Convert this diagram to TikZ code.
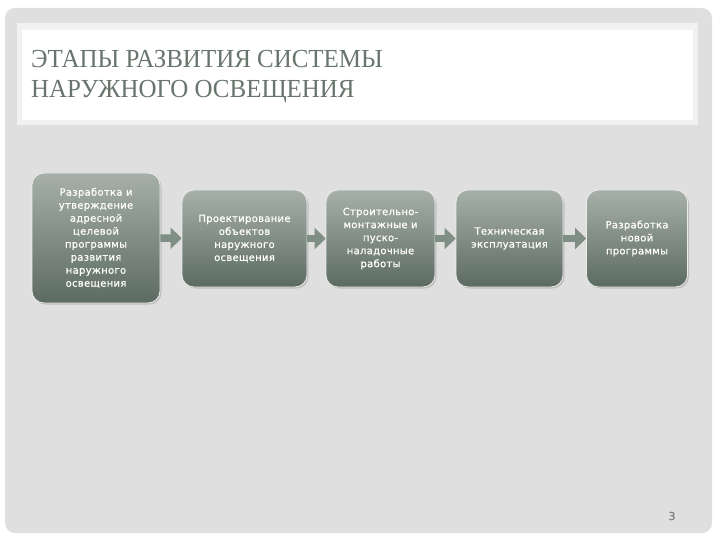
\documentclass[tikz,border=0pt]{standalone}
\usepackage{fontspec}
\setmainfont{Liberation Serif}
\newfontfamily\titlefont[FakeStretch=0.96]{Liberation Serif}
\newfontfamily\boxfont[LetterSpace=3,FakeBold=0.6]{DejaVu Sans}
\usetikzlibrary{arrows.meta,shadows}

\definecolor{slidegray}{RGB}{223,223,223}
\definecolor{bandgray}{RGB}{241,241,241}
\definecolor{titlegreen}{RGB}{104,117,108}
\definecolor{boxtop}{RGB}{166,176,168}
\definecolor{boxbottom}{RGB}{92,107,98}
\definecolor{arrowgreen}{RGB}{128,143,134}

\tikzset{
  stagebox/.style={rounded corners=12pt, draw=white!85!gray, line width=0.8pt,
    top color=boxtop, bottom color=boxbottom, text=white,
    font=\boxfont\fontsize{10}{13}\selectfont, align=center, inner sep=2pt,
    drop shadow={shadow xshift=1.5pt, shadow yshift=-1.5pt, opacity=0.35}},
  flow/.style={arrowgreen, line width=7.5pt, -{Triangle[width=21pt,length=11pt]}}
}

\begin{document}
\begin{tikzpicture}[x=1pt,y=-1pt]
  \useasboundingbox (0,0) rectangle (720,540);
  % slide
  \fill[slidegray, rounded corners=10pt] (5,8) rectangle (712,533);
  \fill[bandgray] (17,23) rectangle (698,125);
  \fill[white] (22,30) rectangle (693,120);
  \node[anchor=base west, text=titlegreen, align=left,
    font=\titlefont\fontsize{26}{30}\selectfont, inner sep=0pt] (title) at (31,98)
    {ЭТАПЫ РАЗВИТИЯ СИСТЕМЫ\\НАРУЖНОГО ОСВЕЩЕНИЯ};

  % stages
  \node[stagebox, minimum width=128pt, minimum height=130pt] (stage1) at (96,238)
    {Разработка и\\утверждение\\адресной\\целевой\\программы\\развития\\наружного\\освещения};
  \node[stagebox, minimum width=125pt, minimum height=97pt] (stage2) at (244.5,238.5)
    {Проектирование\\объектов\\наружного\\освещения};
  \node[stagebox, minimum width=109pt, minimum height=97pt] (stage3) at (380.5,238.5)
    {Строительно-\\монтажные и\\пуско-\\наладочные\\работы};
  \node[stagebox, minimum width=107pt, minimum height=97pt] (stage4) at (509.5,238.5)
    {Техническая\\эксплуатация};
  \node[stagebox, minimum width=101pt, minimum height=97pt] (stage5) at (637,238.5)
    {Разработка\\новой\\программы};

  \draw[flow] (stage1) -- (stage2);
  \draw[flow] (stage2) -- (stage3);
  \draw[flow] (stage3) -- (stage4);
  \draw[flow] (stage4) -- (stage5);

  \node[text=gray, font=\boxfont\fontsize{11}{13}\selectfont] (pagenum) at (672,516) {3};
\end{tikzpicture}
\end{document}
